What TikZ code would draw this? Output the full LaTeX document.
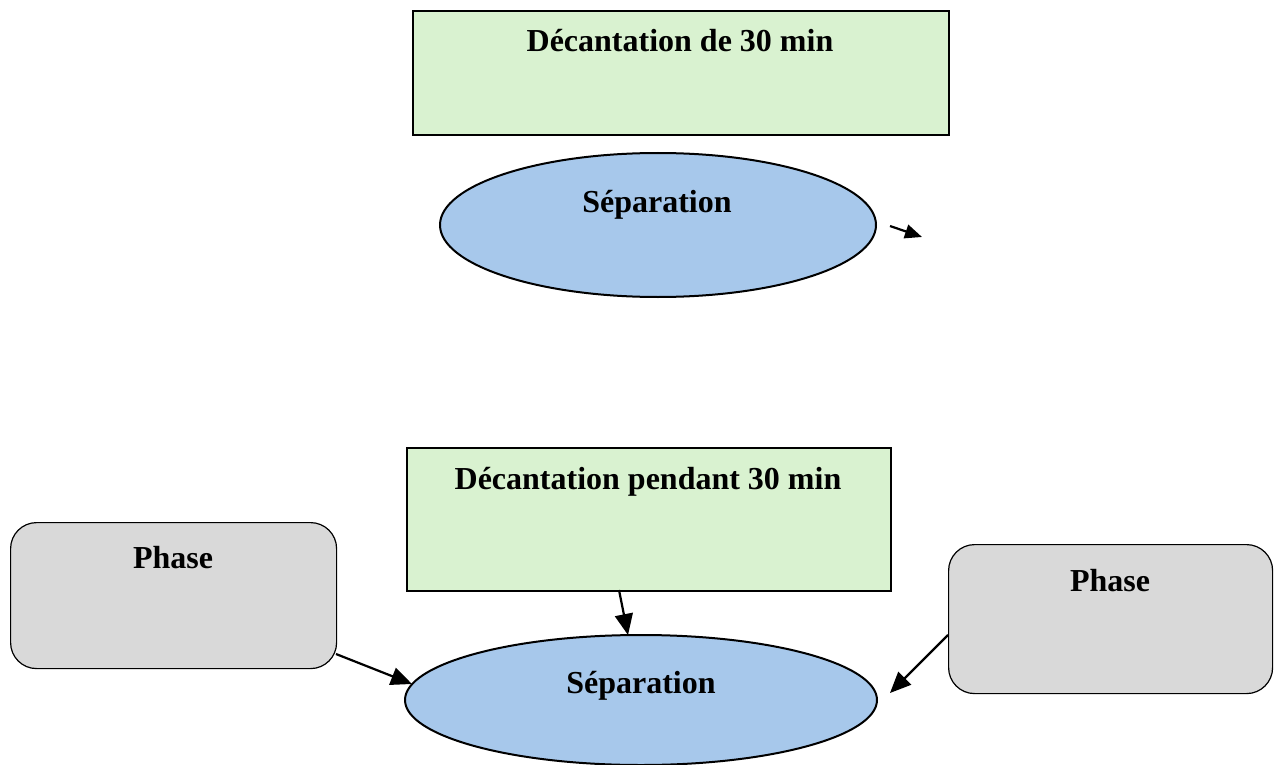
\documentclass[tikz,border=0pt]{standalone}
\usepackage{fontspec}
\setmainfont{Liberation Serif}
\usetikzlibrary{shapes.geometric,arrows.meta}
\definecolor{stepgreen}{HTML}{D9F2D0}
\definecolor{sepblue}{HTML}{A7C8EB}
\definecolor{phasegray}{HTML}{D9D9D9}
\tikzset{
  stepbox/.style={draw=black,line width=2pt,fill=stepgreen,inner sep=0pt,anchor=north west},
  sepell/.style={draw=black,line width=2pt,fill=sepblue,ellipse,inner sep=0pt},
  phasebox/.style={draw=black,line width=1.2pt,fill=phasegray,rounded corners=26pt,inner sep=0pt,anchor=north west},
  lbl/.style={font=\bfseries\fontsize{32}{36}\selectfont,inner sep=0pt,anchor=base},
  flow/.style={line width=2.2pt,-{Triangle[length=21pt,width=18pt]}}
}
\begin{document}
\begin{tikzpicture}[x=1pt,y=-1pt]
\useasboundingbox (0,0) rectangle (1277,765);
% upper stage
\node[stepbox,minimum width=536pt,minimum height=124pt] (dec1) at (412,10) {};
\node[lbl] (dec1t) at (680,52) {Décantation de 30 min};
\node[sepell,minimum width=436pt,minimum height=144pt] (sep1) at (658,225) {};
\node[lbl] (sep1t) at (657,212) {Séparation};
\coordinate (s1a) at (890,226);
\coordinate (s1b) at (922,237);
\draw[line width=2.2pt,-{Triangle[length=17pt,width=14pt]}] (s1a) -- (s1b);
% lower stage
\node[stepbox,minimum width=484pt,minimum height=143pt] (dec2) at (406,447) {};
\node[lbl] (dec2t) at (648,489) {Décantation pendant 30 min};
\node[sepell,minimum width=472pt,minimum height=130pt] (sep2) at (641,700) {};
\node[lbl] (sep2t) at (641,693) {Séparation};
\node[phasebox,minimum width=326pt,minimum height=146pt] (ph1) at (10,522) {};
\node[lbl] (ph1t) at (173,568) {Phase};
\node[phasebox,minimum width=324pt,minimum height=149pt] (ph2) at (948,544) {};
\node[lbl] (ph2t) at (1110,591) {Phase};
% connectors
\coordinate (a1) at (336,654);
\coordinate (a1e) at (412,684);
\draw[flow] (a1) -- (a1e);
\coordinate (a2) at (619,590);
\coordinate (a2e) at (628,635);
\draw[flow] (a2) -- (a2e);
\coordinate (a3) at (948,635);
\coordinate (a3e) at (890,693);
\draw[flow] (a3) -- (a3e);
\end{tikzpicture}
\end{document}
